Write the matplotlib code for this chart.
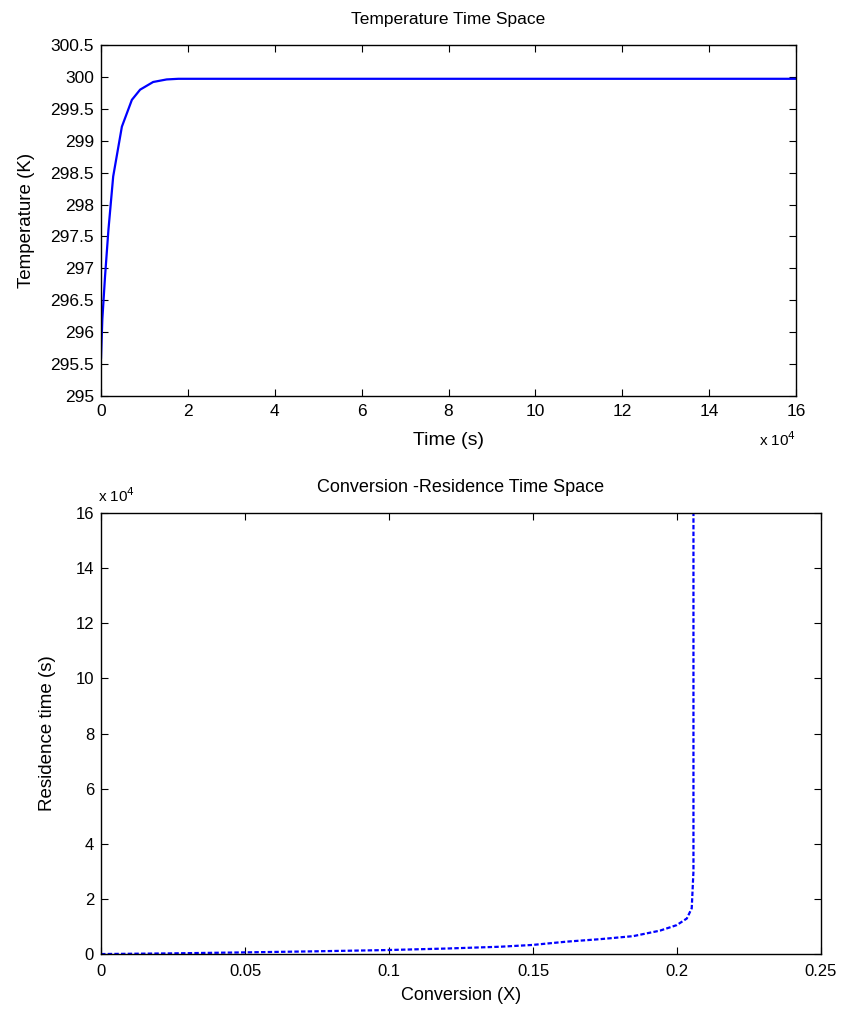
import matplotlib
matplotlib.use("Agg")
import matplotlib.pyplot as plt
from matplotlib.ticker import FuncFormatter

plt.rcParams['font.family'] = ['Liberation Sans', 'DejaVu Sans']

# temperature vs time (time in seconds)
time_s = [0, 300, 920, 1700, 2800, 4800, 7100, 9000, 12000, 15100, 17800, 160000]
temp_K = [295.60, 296.20, 296.87, 297.60, 298.44, 299.22, 299.64, 299.80, 299.92, 299.96, 299.97, 299.97]

# residence time vs conversion
conv_X = [0, 0.025, 0.0498, 0.075, 0.0995, 0.12, 0.1385, 0.1498, 0.1617, 0.1733,
          0.1848, 0.1941, 0.1999, 0.2034, 0.2051, 0.2057, 0.2057]
tau_s = [0, 250, 600, 1000, 1450, 2000, 2650, 3300, 4500, 5400,
         6500, 8500, 10500, 12900, 16600, 30000, 160000]

fig = plt.figure(figsize=(8.44, 10.13), dpi=100)

sci = FuncFormatter(lambda v, p: '%g' % (v / 1e4))


def style_axes(ax, fs):
    ax.tick_params(direction='in', length=5, width=0.8, top=True, right=True,
                   labelsize=fs, pad=5, colors='black')
    for s in ax.spines.values():
        s.set_linewidth(1.0)


# top plot
ax1 = fig.add_axes([0.1197, 0.6091, 0.8235, 0.3465])
ax1.plot(time_s, temp_K, color='blue', linewidth=1.6)
ax1.set_xlim(0, 160000)
ax1.set_ylim(295, 300.5)
ax1.set_xticks([i * 20000 for i in range(9)])
ax1.set_yticks([295 + 0.5 * i for i in range(12)])
ax1.xaxis.set_major_formatter(sci)
ax1.yaxis.set_major_formatter(FuncFormatter(lambda v, p: '%g' % v))
style_axes(ax1, 12.5)
ax1.tick_params(axis='x', pad=6)
ax1.set_title('Temperature Time Space', fontsize=12.5, pad=15)
ax1.set_xlabel('Time (s)', fontsize=14, labelpad=9)
ax1.set_ylabel('Temperature (K)', fontsize=13.5, labelpad=11)
ax1.text(1.0, -0.125, r'x 10$^{4}$', transform=ax1.transAxes, ha='right', va='center', fontsize=11)

# bottom plot
ax2 = fig.add_axes([0.1197, 0.0582, 0.8531, 0.4353])
ax2.plot(conv_X, tau_s, color='blue', linewidth=1.6, linestyle=(0, (2, 1)))
ax2.set_xlim(0, 0.25)
ax2.set_ylim(0, 160000)
ax2.set_xticks([0, 0.05, 0.1, 0.15, 0.2, 0.25])
ax2.set_yticks([i * 20000 for i in range(9)])
ax2.xaxis.set_major_formatter(FuncFormatter(lambda v, p: '%g' % round(v, 2)))
ax2.yaxis.set_major_formatter(sci)
style_axes(ax2, 12)
ax2.tick_params(axis='x', pad=7)
ax2.set_title('Conversion -Residence Time Space', fontsize=13, pad=15)
ax2.set_xlabel('Conversion (X)', fontsize=13, labelpad=6)
ax2.set_ylabel('Residence time (s)', fontsize=13.5, labelpad=14)
ax2.text(-0.004, 1.04, r'x 10$^{4}$', transform=ax2.transAxes, ha='left', va='center', fontsize=11)

fig.savefig('out.png', dpi=100)
